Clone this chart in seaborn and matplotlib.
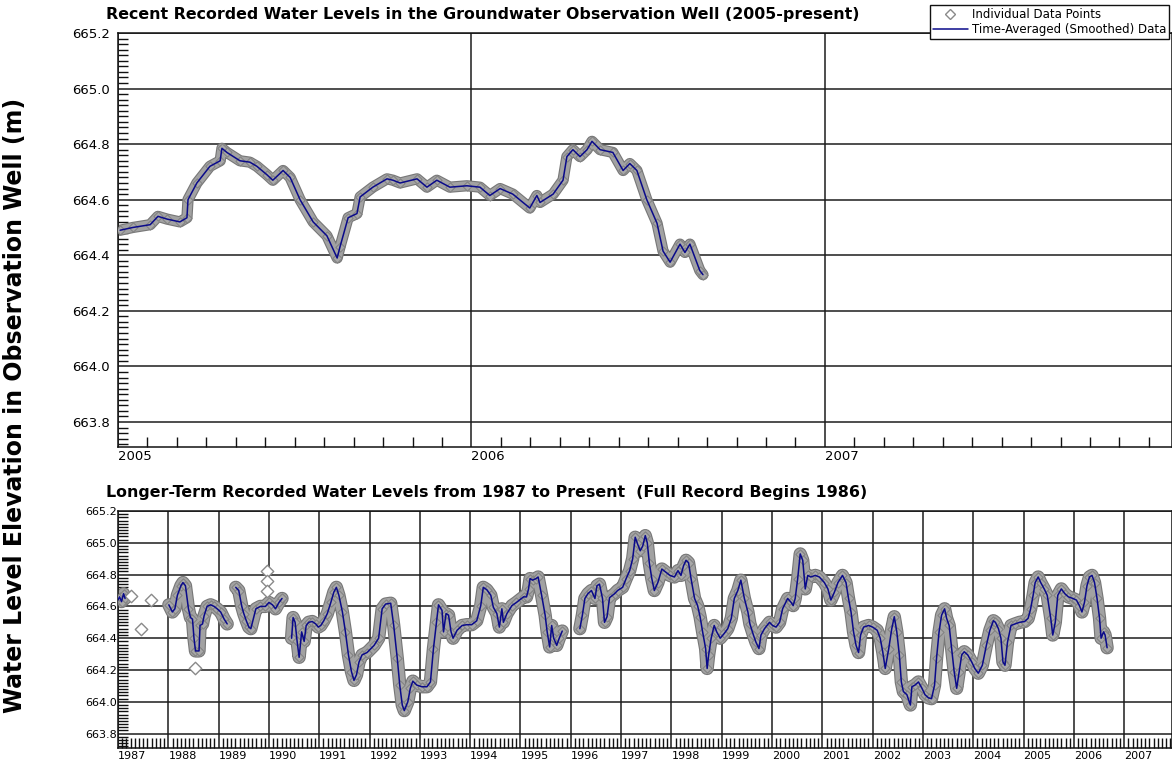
import numpy as np
import pandas as pd
import seaborn as sns
import matplotlib.pyplot as plt
from matplotlib.ticker import MultipleLocator
from matplotlib.lines import Line2D


# recent record, 2005 to mid 2006
recent_years = [2005.006, 2005.042, 2005.091, 2005.113, 2005.139, 2005.175, 2005.195, 2005.198,
                2005.223, 2005.260, 2005.289, 2005.294, 2005.308, 2005.345, 2005.373, 2005.393,
                2005.421, 2005.438, 2005.467, 2005.487, 2005.515, 2005.552, 2005.591, 2005.620,
                2005.628, 2005.651, 2005.676, 2005.685, 2005.721, 2005.761, 2005.778, 2005.798,
                2005.846, 2005.874, 2005.902, 2005.939, 2005.987, 2006.024, 2006.052, 2006.081,
                2006.117, 2006.165, 2006.185, 2006.194, 2006.231, 2006.259, 2006.270, 2006.287,
                2006.307, 2006.327, 2006.341, 2006.364, 2006.400, 2006.429, 2006.448, 2006.468,
                2006.496, 2006.525, 2006.542, 2006.562, 2006.590, 2006.604, 2006.618, 2006.646,
                2006.655]
recent_levels = [664.49, 664.50, 664.51, 664.54, 664.53, 664.52, 664.535, 664.60,
                 664.66, 664.72, 664.74, 664.785, 664.77, 664.74, 664.735, 664.72,
                 664.69, 664.67, 664.705, 664.68, 664.60, 664.52, 664.47, 664.39,
                 664.43, 664.535, 664.55, 664.61, 664.645, 664.675, 664.67, 664.66,
                 664.675, 664.645, 664.67, 664.645, 664.65, 664.645, 664.615, 664.64,
                 664.62, 664.57, 664.615, 664.59, 664.62, 664.67, 664.755, 664.78,
                 664.755, 664.78, 664.81, 664.78, 664.77, 664.705, 664.73, 664.705,
                 664.60, 664.515, 664.415, 664.375, 664.44, 664.41, 664.44, 664.345,
                 664.33]

# long-term record, None marks a gap in the record
long_years = [1987.00, 1987.03, 1987.07, 1987.11, 1987.14, None,
              1988.01, 1988.08, 1988.13, 1988.18, 1988.25, 1988.29, 1988.34, 1988.40,
              1988.44, 1988.48, 1988.51, 1988.54, 1988.61, 1988.63, 1988.68, 1988.71,
              1988.77, 1988.84, 1988.91, 1988.97, 1989.04, 1989.11, 1989.17, None,
              1989.34, 1989.40, 1989.46, 1989.50, 1989.55, 1989.60, 1989.64, 1989.74,
              1989.83, 1989.93, 1990.00, 1990.07, 1990.13, 1990.20, 1990.26, None,
              1990.45, 1990.48, 1990.52, 1990.56, 1990.60, 1990.65, 1990.70, 1990.74,
              1990.79, 1990.86, 1990.93, 1990.98, 1991.03, 1991.09, 1991.16, 1991.23,
              1991.29, 1991.34, 1991.39, 1991.46, 1991.52, 1991.58, 1991.64, 1991.69,
              1991.74, 1991.79, 1991.85, 1991.95, 1992.09, 1992.18, 1992.25, 1992.32,
              1992.42, 1992.48, 1992.55, 1992.60, 1992.65, 1992.69, 1992.76, 1992.81,
              1992.86, 1992.94, 1993.04, 1993.14, 1993.21, 1993.27, 1993.33, 1993.37,
              1993.44, 1993.47, 1993.52, 1993.57, 1993.62, 1993.66, 1993.74, 1993.84,
              1993.93, 1994.03, 1994.13, 1994.21, 1994.26, 1994.33, 1994.41, 1994.46,
              1994.53, 1994.58, 1994.63, 1994.66, 1994.73, 1994.83, 1994.92, 1995.06,
              1995.12, 1995.16, 1995.19, 1995.24, 1995.31, 1995.35, 1995.42, 1995.49,
              1995.53, 1995.58, 1995.62, 1995.66, 1995.72, 1995.77, 1995.83, None,
              1996.18, 1996.23, 1996.28, 1996.34, 1996.41, 1996.48, 1996.52, 1996.57,
              1996.63, 1996.67, 1996.72, 1996.77, 1996.87, 1996.93, 1997.03, 1997.10,
              1997.17, 1997.23, 1997.28, 1997.33, 1997.38, 1997.43, 1997.48, 1997.52,
              1997.56, 1997.61, 1997.66, 1997.73, 1997.81, 1997.89, 1997.97, 1998.06,
              1998.13, 1998.19, 1998.24, 1998.29, 1998.34, 1998.39, 1998.46, 1998.52,
              1998.57, 1998.62, 1998.68, 1998.71, 1998.74, 1998.79, 1998.85, 1998.90,
              1998.97, 1999.05, 1999.12, 1999.19, 1999.25, 1999.32, 1999.38, 1999.45,
              1999.52, 1999.56, 1999.63, 1999.68, 1999.74, 1999.78, 1999.85, 1999.95,
              2000.01, 2000.08, 2000.15, 2000.21, 2000.31, 2000.38, 2000.42, 2000.46,
              2000.51, 2000.56, 2000.61, 2000.66, 2000.71, 2000.77, 2000.86, 2000.94,
              2001.04, 2001.11, 2001.17, 2001.24, 2001.31, 2001.40, 2001.47, 2001.52,
              2001.57, 2001.62, 2001.67, 2001.72, 2001.76, 2001.82, 2001.92, 2002.00,
              2002.09, 2002.15, 2002.20, 2002.25, 2002.32, 2002.38, 2002.43, 2002.48,
              2002.53, 2002.57, 2002.61, 2002.68, 2002.75, 2002.78, 2002.84, 2002.91,
              2002.98, 2003.04, 2003.11, 2003.17, 2003.23, 2003.27, 2003.32, 2003.37,
              2003.43, 2003.47, 2003.52, 2003.57, 2003.62, 2003.67, 2003.72, 2003.77,
              2003.82, 2003.89, 2003.97, 2004.03, 2004.10, 2004.18, 2004.26, 2004.33,
              2004.40, 2004.44, 2004.50, 2004.55, 2004.59, 2004.63, 2004.68, 2004.75,
              2004.83, 2004.92, 2005.02, 2005.09, 2005.14, 2005.19, 2005.23, 2005.29,
              2005.34, 2005.41, 2005.47, 2005.54, 2005.58, 2005.63, 2005.68, 2005.75,
              2005.82, 2005.89, 2005.98, 2006.05, 2006.11, 2006.16, 2006.21, 2006.26,
              2006.31, 2006.36, 2006.41, 2006.46, 2006.51, 2006.54, 2006.59, 2006.62,
              2006.66]
long_levels = [664.64, 664.66, 664.63, 664.68, 664.65, None,
               664.61, 664.565, 664.585, 664.67, 664.73, 664.75, 664.73, 664.585,
               664.53, 664.52, 664.40, 664.32, 664.32, 664.48, 664.49, 664.54,
               664.60, 664.61, 664.60, 664.585, 664.565, 664.52, 664.49, None,
               664.72, 664.70, 664.60, 664.555, 664.51, 664.47, 664.46, 664.585,
               664.60, 664.60, 664.625, 664.61, 664.585, 664.625, 664.65, None,
               664.40, 664.53, 664.50, 664.38, 664.28, 664.44, 664.38, 664.48,
               664.50, 664.505, 664.49, 664.47, 664.48, 664.51, 664.555, 664.625,
               664.69, 664.72, 664.67, 664.565, 664.44, 664.295, 664.19, 664.135,
               664.17, 664.25, 664.295, 664.31, 664.355, 664.40, 664.585, 664.615,
               664.62, 664.48, 664.275, 664.105, 663.98, 663.945, 664.00, 664.085,
               664.13, 664.105, 664.095, 664.095, 664.125, 664.335, 664.50, 664.61,
               664.575, 664.44, 664.555, 664.545, 664.44, 664.40, 664.45, 664.48,
               664.485, 664.485, 664.51, 664.605, 664.72, 664.705, 664.67, 664.595,
               664.555, 664.47, 664.585, 664.50, 664.555, 664.605, 664.625, 664.66,
               664.66, 664.71, 664.775, 664.765, 664.775, 664.785, 664.67, 664.545,
               664.44, 664.345, 664.48, 664.40, 664.355, 664.40, 664.445, None,
               664.46, 664.545, 664.65, 664.68, 664.70, 664.65, 664.73, 664.74,
               664.65, 664.50, 664.535, 664.655, 664.68, 664.70, 664.72, 664.775,
               664.825, 664.90, 665.035, 664.99, 664.95, 664.98, 665.045, 665.00,
               664.875, 664.775, 664.70, 664.75, 664.835, 664.815, 664.795, 664.785,
               664.825, 664.795, 664.855, 664.89, 664.875, 664.775, 664.65, 664.605,
               664.535, 664.44, 664.335, 664.21, 664.295, 664.40, 664.48, 664.44,
               664.40, 664.43, 664.46, 664.525, 664.65, 664.70, 664.765, 664.65,
               664.565, 664.49, 664.42, 664.375, 664.335, 664.42, 664.46, 664.50,
               664.48, 664.47, 664.50, 664.585, 664.65, 664.625, 664.605, 664.65,
               664.775, 664.93, 664.89, 664.71, 664.795, 664.785, 664.795, 664.785,
               664.75, 664.71, 664.64, 664.69, 664.75, 664.795, 664.75, 664.65,
               664.565, 664.44, 664.355, 664.31, 664.42, 664.47, 664.48, 664.47,
               664.45, 664.40, 664.315, 664.21, 664.335, 664.46, 664.535, 664.44,
               664.295, 664.125, 664.065, 664.045, 663.98, 664.095, 664.105, 664.125,
               664.085, 664.045, 664.025, 664.02, 664.105, 664.275, 664.44, 664.545,
               664.585, 664.525, 664.48, 664.335, 664.19, 664.085, 664.19, 664.295,
               664.315, 664.295, 664.25, 664.21, 664.18, 664.23, 664.355, 664.45,
               664.51, 664.50, 664.46, 664.40, 664.25, 664.23, 664.375, 664.48,
               664.49, 664.50, 664.505, 664.525, 664.585, 664.67, 664.75, 664.785,
               664.75, 664.71, 664.67, 664.525, 664.42, 664.50, 664.67, 664.71,
               664.68, 664.66, 664.65, 664.64, 664.605, 664.565, 664.625, 664.73,
               664.785, 664.795, 664.75, 664.65, 664.525, 664.40, 664.44, 664.42,
               664.34]

# scattered single readings in the early record
loose_years = [1987.25, 1987.46, 1987.66, 1988.54, 1989.97, 1989.97, 1989.97]
loose_levels = [664.665, 664.46, 664.64, 664.215, 664.825, 664.76, 664.70]

level_ticks = [663.8, 664.0, 664.2, 664.4, 664.6, 664.8, 665.0, 665.2]
level_labels = ['663.8', '664.0', '664.2', '664.4', '664.6', '664.8', '665.0', '665.2']
recent_xticks = [2005, 2006, 2007]
long_xticks = list(range(1987, 2008))

top_title = 'Recent Recorded Water Levels in the Groundwater Observation Well (2005-present)'
bottom_title = 'Longer-Term Recorded Water Levels from 1987 to Present  (Full Record Begins 1986)'
y_title = 'Water Level Elevation in Observation Well (m)'

recent = pd.DataFrame({'year': recent_years, 'level': recent_levels})
recent['seg'] = 0
longterm = pd.DataFrame({'year': long_years, 'level': long_levels}, dtype=float)
longterm['seg'] = longterm['level'].isna().cumsum()
longterm = longterm.dropna()
loose = pd.DataFrame({'year': loose_years, 'level': loose_levels})

sns.set_theme(style='white')
plt.rcParams['font.family'] = ['DejaVu Sans']
plt.rcParams['text.color'] = 'black'

fig = plt.figure(figsize=(11.72, 7.63), dpi=100)
ax1 = fig.add_axes([0.1007, 0.4142, 0.8993, 0.5426])
ax2 = fig.add_axes([0.1007, 0.0197, 0.8993, 0.3106])

navy = '#0a0a8a'


def draw_record(ax, df, band):
    # grey band of dense individual readings, blue smoothed trace on top
    sns.lineplot(data=df, x='year', y='level', units='seg', estimator=None, sort=False,
                 color='#777777', lw=band + 1.6, ax=ax, solid_joinstyle='round',
                 solid_capstyle='round')
    sns.lineplot(data=df, x='year', y='level', units='seg', estimator=None, sort=False,
                 color='#a2a2a2', lw=band, ax=ax, solid_joinstyle='round',
                 solid_capstyle='round')
    sns.scatterplot(data=df, x='year', y='level', marker='D', s=22, color='#a8a8a8',
                    edgecolor='#808080', linewidth=0.7, ax=ax, zorder=3)
    sns.lineplot(data=df, x='year', y='level', units='seg', estimator=None, sort=False,
                 color=navy, lw=1.1, ax=ax, zorder=4)


draw_record(ax1, recent, 6.5)
draw_record(ax2, longterm, 8.0)
sns.scatterplot(data=loose, x='year', y='level', marker='D', s=40, color='white',
                edgecolor='#8a8a8a', linewidth=1.0, ax=ax2, zorder=3)

ax1.set_xlim(2005, 2007.982)
ax2.set_xlim(1987, 2007.95)

for ax, xt, ysize, ypad, xsize in [(ax1, recent_xticks, 9.5, 6, 9.5),
                                   (ax2, long_xticks, 8, 0.5, 8)]:
    ax.set_ylim(663.71, 665.2)
    ax.set_yticks(level_ticks, level_labels)
    ax.set_xticks(xt, [str(t) for t in xt])
    for lab in ax.get_xticklabels():
        lab.set_horizontalalignment('left')
    ax.yaxis.set_minor_locator(MultipleLocator(0.02))
    ax.xaxis.set_minor_locator(MultipleLocator(1 / 12))
    ax.grid(True, which='major', color='#1c1c1c', lw=1.1)
    ax.tick_params(which='major', length=0, labelcolor='black')
    ax.tick_params(axis='y', which='major', labelsize=ysize, pad=ypad)
    ax.tick_params(axis='x', which='major', labelsize=xsize, pad=2)
    ax.tick_params(which='minor', direction='in', length=7.5, width=1.0, color='#111111',
                   bottom=True, left=True, top=False, right=False)
    ax.set_xlabel('')
    ax.set_ylabel('')
    for sp in ax.spines.values():
        sp.set_color('#111111')
        sp.set_linewidth(1.1)

fig.text(106 / 1172, 1 - 15 / 763, top_title, ha='left', va='center', fontsize=11.4,
         fontweight='bold', family='DejaVu Sans', color='black')
fig.text(106 / 1172, 1 - 493 / 763, bottom_title, ha='left', va='center', fontsize=11.4,
         fontweight='bold', family='DejaVu Sans', color='black')
fig.text(15 / 1172, 1 - 405 / 763, y_title, rotation=90, ha='center', va='center',
         fontsize=17, fontweight='bold', family='DejaVu Sans', color='black')

handles = [Line2D([], [], ls='none', marker='D', markersize=5, markerfacecolor='white',
                  markeredgecolor='#8a8a8a', markeredgewidth=1.0),
           Line2D([], [], color=navy, lw=1.1)]
leg = fig.legend(handles, ['Individual Data Points', 'Time-Averaged (Smoothed) Data'],
                 loc='upper right', bbox_to_anchor=(1169 / 1172, 1 - 5 / 763), fontsize=8.5,
                 frameon=True, fancybox=False, framealpha=1, edgecolor='#111111',
                 handlelength=3.0, handletextpad=0.3, borderpad=0.25, labelspacing=0.2,
                 borderaxespad=0)
leg.get_frame().set_linewidth(1.0)
for txt in leg.get_texts():
    txt.set_color('black')

fig.savefig('out.png', dpi=100)
